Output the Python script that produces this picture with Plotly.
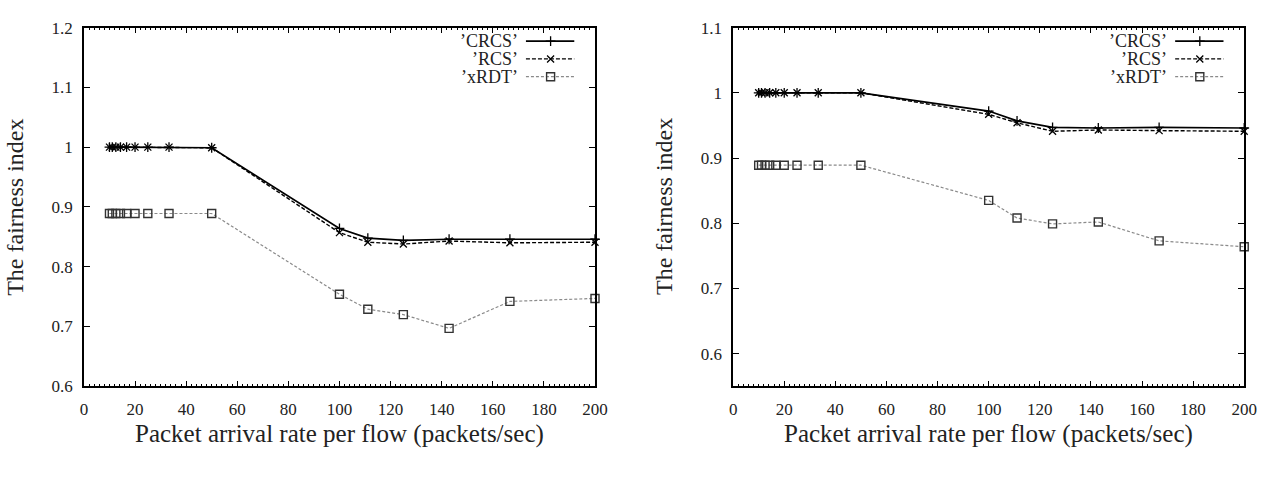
import plotly.graph_objects as go

# ---------------- data ----------------
rate = [10, 11.1, 12.5, 14.3, 16.7, 20, 25, 33.3, 50, 100, 111.1, 125, 142.9, 166.7, 200]

crcs_left = [1.0, 1.0, 1.0, 1.0, 1.0, 1.0, 1.0, 1.0, 0.999, 0.864, 0.848, 0.844, 0.846, 0.846, 0.846]
rcs_left = [1.0, 1.0, 1.0, 1.0, 1.0, 1.0, 1.0, 1.0, 0.999, 0.857, 0.841, 0.838, 0.843, 0.840, 0.841]
xrdt_left = [0.889, 0.889, 0.889, 0.889, 0.889, 0.889, 0.889, 0.889, 0.889, 0.754, 0.729, 0.720, 0.697, 0.742, 0.747]

crcs_right = [1.0, 1.0, 1.0, 1.0, 1.0, 1.0, 1.0, 1.0, 1.0, 0.972, 0.957, 0.947, 0.946, 0.947, 0.946]
rcs_right = [1.0, 1.0, 1.0, 1.0, 1.0, 1.0, 1.0, 1.0, 1.0, 0.967, 0.954, 0.941, 0.943, 0.942, 0.941]
xrdt_right = [0.889, 0.889, 0.889, 0.889, 0.889, 0.889, 0.889, 0.889, 0.889, 0.835, 0.808, 0.799, 0.802, 0.773, 0.764]

series_names = ["\u2019CRCS\u2019", "\u2019RCS\u2019", "\u2019xRDT\u2019"]

x_range = [0, 200]
x_tick_step = 20
y_left_ticks = [0.6, 0.7, 0.8, 0.9, 1.0, 1.1, 1.2]
y_left_labels = ["0.6", "0.7", "0.8", "0.9", "1", "1.1", "1.2"]
y_left_range = [0.6, 1.2]
y_right_ticks = [0.6, 0.7, 0.8, 0.9, 1.0, 1.1]
y_right_labels = ["0.6", "0.7", "0.8", "0.9", "1", "1.1"]
y_right_range = [0.55, 1.1]

x_title = "Packet arrival rate per flow (packets/sec)"
y_title = "The fairness index"

# ---------------- layout geometry (pixels) ----------------
W, H = 1273, 498
plot_top, plot_bottom = 19.3, 392.3
left_x0, left_x1 = 81, 599
right_x0, right_x1 = 739, 1257

FONT = "Liberation Serif"
styles = [
    dict(line=dict(color="black", width=1.7, dash="solid"),
         marker=dict(symbol="cross-thin", size=7, color="black", line=dict(width=1.3, color="black"))),
    dict(line=dict(color="black", width=1.4, dash="4px,2px"),
         marker=dict(symbol="x-thin", size=7, color="black", line=dict(width=1.3, color="black"))),
    dict(line=dict(color="#8a8a8a", width=1.2, dash="3px,2px"),
         marker=dict(symbol="square-open", size=8, color="#333", line=dict(width=1.4, color="#333"))),
]

fig = go.Figure()

panels = [
    ("x", "y", [crcs_left, rcs_left, xrdt_left], y_left_range, left_x0, left_x1),
    ("x2", "y2", [crcs_right, rcs_right, xrdt_right], y_right_range, right_x0, right_x1),
]

legend_rows_px = [33.4, 51.9, 70.4]

for xa, ya, data, yr, px0, px1 in panels:
    for name, vals, st in zip(series_names, data, styles):
        fig.add_trace(go.Scatter(x=rate, y=vals, mode="lines+markers", name=name,
                                 xaxis=xa, yaxis=ya, showlegend=False, cliponaxis=False,
                                 line=st["line"], marker=st["marker"]))
    # key (gnuplot style: label then sample)
    pw = px1 - px0
    ph = plot_bottom - plot_top
    def to_x(px):
        return x_range[0] + (px - px0) / pw * (x_range[1] - x_range[0])
    def to_y(py):
        return yr[1] - (py - plot_top) / ph * (yr[1] - yr[0])
    for name, st, row in zip(series_names, styles, legend_rows_px):
        sx = [to_x(px1 - 70), to_x(px1 - 45), to_x(px1 - 21)]
        sy = [to_y(row)] * 3
        fig.add_trace(go.Scatter(x=sx, y=sy, mode="lines", xaxis=xa, yaxis=ya,
                                 showlegend=False, line=st["line"], hoverinfo="skip"))
        fig.add_trace(go.Scatter(x=[sx[1]], y=[sy[1]], mode="markers", xaxis=xa, yaxis=ya,
                                 showlegend=False, marker=st["marker"], hoverinfo="skip"))
        fig.add_annotation(x=(pw - 76) / pw, y=1 - (row - plot_top) / ph,
                           xref=f"{xa} domain", yref=f"{ya} domain",
                           text=name, showarrow=False, xanchor="right", yanchor="middle",
                           font=dict(family=FONT, size=18, color="#222"))
    # axis titles
    fig.add_annotation(x=(px0 + px1) / 2 / W, y=1 - 442 / H, xref="paper", yref="paper",
                       text=x_title, showarrow=False, xanchor="center", yanchor="middle",
                       font=dict(family=FONT, size=25, color="#222"))
    fig.add_annotation(x=(px0 - 70) / W, y=1 - (plot_top + plot_bottom) / 2 / H,
                       xref="paper", yref="paper", text=y_title, textangle=-90,
                       showarrow=False, xanchor="center", yanchor="middle",
                       font=dict(family=FONT, size=24, color="#222"))

tickfont = dict(family=FONT, size=17, color="#222")

def xaxis(px0, px1, anchor, **extra):
    d = dict(domain=[px0 / W, px1 / W], range=x_range, anchor=anchor,
             tickmode="linear", tick0=0, dtick=x_tick_step,
             ticks="inside", ticklen=6, tickwidth=1, tickcolor="black",
             showline=True, linecolor="black", linewidth=1.6, mirror="allticks",
             showgrid=False, zeroline=False, tickfont=tickfont, ticklabelstandoff=6,
             minor=dict(ticks="inside", ticklen=3, dtick=2, tickwidth=1,
                        tickcolor="black", showgrid=False))
    d.update(extra)
    return d

def yaxis(tv, tt, yr, anchor):
    return dict(domain=[1 - plot_bottom / H, 1 - plot_top / H], range=yr, anchor=anchor,
                tickmode="array", tickvals=tv, ticktext=tt,
                ticks="inside", ticklen=6, tickwidth=1, tickcolor="black",
                showline=True, linecolor="black", linewidth=1.6, mirror="allticks",
                showgrid=False, zeroline=False, tickfont=tickfont, ticklabelstandoff=6)

fig.update_layout(
    width=W, height=H, margin=dict(l=0, r=0, t=0, b=0),
    paper_bgcolor="white", plot_bgcolor="white", showlegend=False,
    xaxis=xaxis(left_x0, left_x1, "y"),
    yaxis=yaxis(y_left_ticks, y_left_labels, y_left_range, "x"),
    xaxis2=xaxis(right_x0, right_x1, "y2"),
    yaxis2=yaxis(y_right_ticks, y_right_labels, y_right_range, "x2"),
    # top-side copies so major and minor ticks also appear along the top frame
    xaxis3=xaxis(left_x0, left_x1, "y", overlaying="x", side="top", showticklabels=False),
    xaxis4=xaxis(right_x0, right_x1, "y2", overlaying="x2", side="top", showticklabels=False),
)

fig.write_html("out.html")
